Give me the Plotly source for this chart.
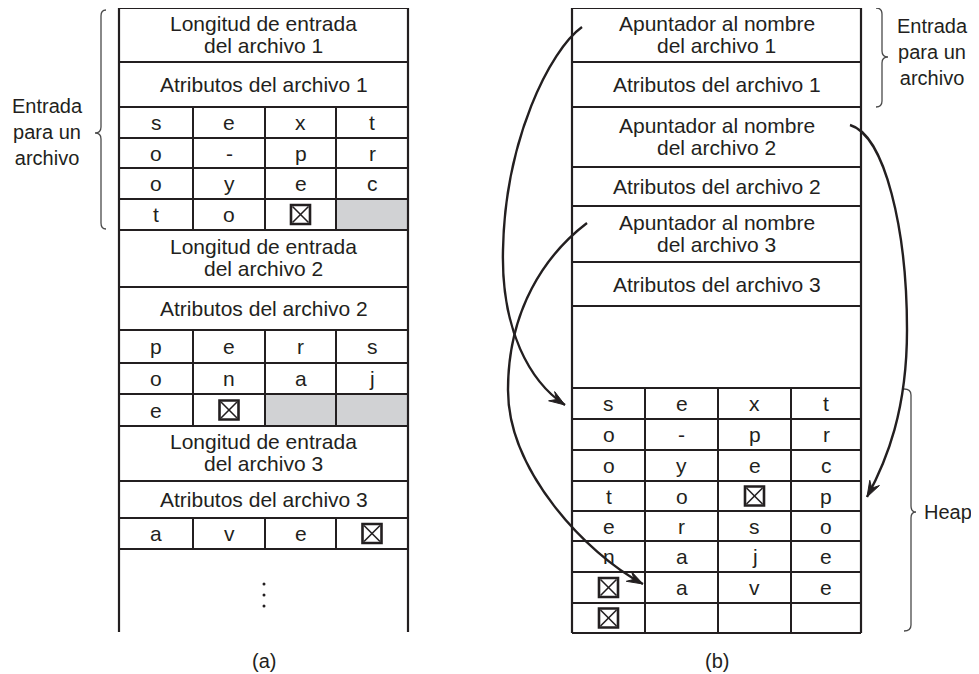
import plotly.graph_objects as go

W, H = 979, 674
PAGE_MARGIN = 8  # browser default body margin
INK = "#231f20"
GRAY = "#d1d2d4"
BRACE = "#4a4a4a"
FONT = "Liberation Sans, Arial, sans-serif"
FS = 21

NULL = "⊠"   # end-of-name marker
PAD = None   # unused (grey) padding cell

# ---------------- Panel (a): entries stored in-line ----------------
A_X_EDGES = [119, 193, 265, 336, 408]
A_Y_EDGES = [8, 62, 107, 138, 168, 199, 230, 287, 330, 363, 394, 426, 481, 518, 549]
A_BOTTOM = 632
A_ROWS = [
    ("text", ["Longitud de entrada", "del archivo 1"]),
    ("text", ["Atributos del archivo 1"]),
    ("cells", ["s", "e", "x", "t"]),
    ("cells", ["o", "-", "p", "r"]),
    ("cells", ["o", "y", "e", "c"]),
    ("cells", ["t", "o", NULL, PAD]),
    ("text", ["Longitud de entrada", "del archivo 2"]),
    ("text", ["Atributos del archivo 2"]),
    ("cells", ["p", "e", "r", "s"]),
    ("cells", ["o", "n", "a", "j"]),
    ("cells", ["e", NULL, PAD, PAD]),
    ("text", ["Longitud de entrada", "del archivo 3"]),
    ("text", ["Atributos del archivo 3"]),
    ("cells", ["a", "v", "e", NULL]),
]
A_DOTS_Y = [584, 595, 606]

# ---------------- Panel (b): names in a heap ----------------
B_X_EDGES = [572, 645, 718, 791, 861]
B_Y_EDGES = [8, 62, 107, 167, 206, 262, 306, 388, 419, 450, 481, 511, 541, 572, 603, 633]
B_ROWS = [
    ("text", ["Apuntador al nombre", "del archivo 1"]),
    ("text", ["Atributos del archivo 1"]),
    ("text", ["Apuntador al nombre", "del archivo 2"]),
    ("text", ["Atributos del archivo 2"]),
    ("text", ["Apuntador al nombre", "del archivo 3"]),
    ("text", ["Atributos del archivo 3"]),
    ("text", []),
    ("cells", ["s", "e", "x", "t"]),
    ("cells", ["o", "-", "p", "r"]),
    ("cells", ["o", "y", "e", "c"]),
    ("cells", ["t", "o", NULL, "p"]),
    ("cells", ["e", "r", "s", "o"]),
    ("cells", ["n", "a", "j", "e"]),
    ("cells", [NULL, "a", "v", "e"]),
    ("cells", [NULL, "", "", ""]),
]

# pointer arrows: lists of cubic Bezier segments (start, c1, c2, end)
ARROWS = [
    [(582, 27), (550, 50), (505, 140), (503, 250),
     (501, 330), (530, 382), (565, 405)],
    [(850, 125), (885, 135), (907, 230), (907, 330),
     (907, 410), (887, 460), (867, 497)],
    [(587, 223), (545, 255), (508, 310), (508, 390),
     (508, 470), (585, 553), (643, 584)],
]

# braces: (x_end, x_spine, x_tip, y_top, y_bottom, y_tip)
BRACES = [
    (106, 101, 95, 10, 229, 133),
    (876, 882, 888, 8, 107, 57),
    (904, 911, 916, 389, 631, 512),
]
SIDE_LABELS = [
    ("Entrada<br>para un<br>archivo", 47, 132, "center"),
    ("Entrada<br>para un<br>archivo", 932, 52, "center"),
    ("Heap", 922, 512, "left"),
]
CAPTIONS = [("(a)", 264, 661), ("(b)", 717, 661)]

shapes = []
annotations = []


def line(x0, y0, x1, y1, w=2.0, color=INK):
    shapes.append(dict(type="line", x0=x0, y0=y0, x1=x1, y1=y1, xref="x", yref="y",
                       line=dict(color=color, width=w)))


def text(s, x, y, size=FS, xanchor="center"):
    annotations.append(dict(text=s, x=x, y=y, xref="x", yref="y", showarrow=False,
                            xanchor=xanchor, yanchor="middle",
                            font=dict(family=FONT, size=size, color=INK)))


def null_box(cx, cy):
    s = 9.5
    shapes.append(dict(type="rect", x0=cx - s, x1=cx + s, y0=cy - s, y1=cy + s,
                       xref="x", yref="y", line=dict(color=INK, width=2.6),
                       fillcolor="white"))
    i = s - 1.5
    line(cx - i, cy - i, cx + i, cy + i, w=1.6)
    line(cx - i, cy + i, cx + i, cy - i, w=1.6)


def draw_table(xe, ye, rows, bottom, closed):
    left, right = xe[0], xe[-1]
    for r, (kind, vals) in enumerate(rows):
        if kind == "cells":
            for c, v in enumerate(vals):
                if v is PAD:
                    shapes.append(dict(type="rect", x0=xe[c], x1=xe[c + 1], y0=ye[r], y1=ye[r + 1],
                                       xref="x", yref="y", line=dict(width=0), fillcolor=GRAY,
                                       layer="below"))
    for y in ye:
        line(left, y, right, y, w=2.2)
    if closed:
        line(left, bottom, right, bottom, w=2.2)
    line(left, ye[0] - 1, left, bottom, w=2.2)
    line(right, ye[0] - 1, right, bottom, w=2.2)
    for r, (kind, vals) in enumerate(rows):
        y0, y1 = ye[r], ye[r + 1] if r + 1 < len(ye) else bottom
        cy = (y0 + y1) / 2
        if kind == "text":
            if len(vals) == 1:
                text(vals[0], (left + right) / 2, cy)
            elif len(vals) == 2:
                text(vals[0], (left + right) / 2, cy - 12)
                text(vals[1], (left + right) / 2, cy + 10)
        else:
            for c in range(1, len(xe) - 1):
                line(xe[c], y0, xe[c], y1, w=2.0)
            for c, v in enumerate(vals):
                cx = (xe[c] + xe[c + 1]) / 2
                if v == NULL:
                    null_box(cx, cy)
                elif v:
                    text(v, cx, cy)


draw_table(A_X_EDGES, A_Y_EDGES, A_ROWS, A_BOTTOM, closed=False)
draw_table(B_X_EDGES, B_Y_EDGES, B_ROWS, B_Y_EDGES[-1], closed=True)

# braces
for xe, xs, xt, y0, y1, ym in BRACES:
    r = 6
    d = (f"M {xe},{y0} Q {xs},{y0} {xs},{y0 + r} L {xs},{ym - r} Q {xs},{ym} {xt},{ym} "
         f"Q {xs},{ym} {xs},{ym + r} L {xs},{y1 - r} Q {xs},{y1} {xe},{y1}")
    shapes.append(dict(type="path", path=d, xref="x", yref="y",
                       line=dict(color=BRACE, width=1.3)))

for s, x, y, anchor in SIDE_LABELS:
    annotations.append(dict(text=s, x=x, y=y, xref="x", yref="y", showarrow=False,
                            xanchor="center" if anchor == "center" else "left",
                            yanchor="middle", align="center",
                            font=dict(family=FONT, size=FS - 1, color=INK)))

# arrows
for pts in ARROWS:
    d = f"M {pts[0][0]},{pts[0][1]}"
    for k in range(1, len(pts), 3):
        a, b, c = pts[k], pts[k + 1], pts[k + 2]
        d += f" C {a[0]},{a[1]} {b[0]},{b[1]} {c[0]},{c[1]}"
    tip = pts[-1]
    ux, uy = tip[0] - pts[-2][0], tip[1] - pts[-2][1]
    n = (ux * ux + uy * uy) ** 0.5
    ux, uy = ux / n, uy / n
    shapes.append(dict(type="path", path=d, xref="x", yref="y",
                       line=dict(color=INK, width=2.4)))
    L, Wd, N = 16, 5.5, 10
    bx, by = tip[0] - L * ux, tip[1] - L * uy
    nx, ny = -uy, ux
    head = (f"M {tip[0]},{tip[1]} L {bx + Wd * nx},{by + Wd * ny} "
            f"L {tip[0] - N * ux},{tip[1] - N * uy} L {bx - Wd * nx},{by - Wd * ny} Z")
    shapes.append(dict(type="path", path=head, xref="x", yref="y",
                       line=dict(color=INK, width=1), fillcolor=INK))

for s, x, y in CAPTIONS:
    text(s, x, y, size=FS - 1)

fig = go.Figure()
fig.add_trace(go.Scatter(x=[264] * len(A_DOTS_Y), y=A_DOTS_Y, mode="markers",
                         marker=dict(size=3, color=INK), hoverinfo="skip",
                         showlegend=False))
# the page body has an 8px margin: the figure fills the rest of the window and the
# ranges are offset so that data units equal window pixels
fw, fh = W - PAGE_MARGIN, H - PAGE_MARGIN
fig.update_layout(
    width=fw, height=fh, margin=dict(l=0, r=0, t=0, b=0),
    paper_bgcolor="white", plot_bgcolor="white",
    xaxis=dict(range=[PAGE_MARGIN, PAGE_MARGIN + fw], visible=False, fixedrange=True),
    yaxis=dict(range=[PAGE_MARGIN + fh, PAGE_MARGIN], visible=False, fixedrange=True),
    shapes=shapes, annotations=annotations, showlegend=False,
)
fig.write_html("out.html")
